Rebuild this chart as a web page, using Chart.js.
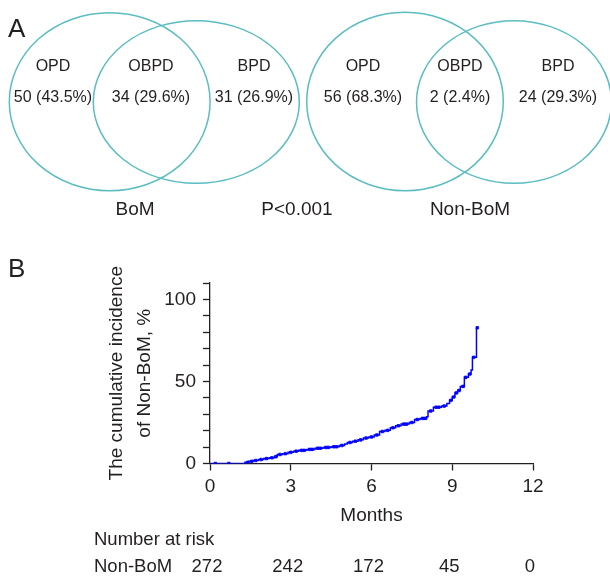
<!DOCTYPE html>
<html>
<head>
<meta charset="utf-8">
<script src="https://cdn.jsdelivr.net/npm/chart.js@4.4.1/dist/chart.umd.min.js"></script>
<style>
  body { margin: 0; background: #fff; }
  canvas { display: block; }
</style>
</head>
<body>
<canvas id="venn" width="610" height="230"></canvas>
<canvas id="chart" width="610" height="349"></canvas>
<script>
// panel A: Venn counts
const vennRegions = ['OPD', 'OBPD', 'BPD'];
const bomCounts = [50, 34, 31];
const bomPct = ['43.5', '29.6', '26.9'];
const nonBomCounts = [56, 2, 24];
const nonBomPct = ['68.3', '2.4', '29.3'];
const groupNames = ['BoM', 'Non-BoM'];
const pText = 'P<0.001';

// panel B: cumulative incidence step curve
const months = [0, 1.3, 1.45, 1.6, 1.8, 2.0, 2.2, 2.4, 2.5, 2.7,
  2.9, 3.1, 3.3, 3.6, 3.9, 4.2, 4.5, 4.8, 5.0, 5.1,
  5.3, 5.5, 5.7, 5.9, 6.1, 6.3, 6.5, 6.7, 6.9, 7.1,
  7.4, 7.6, 7.8, 8.05, 8.1, 8.3, 8.6, 8.8, 8.9, 9.0,
  9.1, 9.2, 9.3, 9.45, 9.6, 9.7, 9.75, 9.9];
const incidence = [0, 0.7, 1.3, 1.8, 2.4, 3.0, 3.5, 4.2, 5.5, 6.0,
  6.8, 7.5, 8.0, 8.6, 9.3, 9.8, 10.2, 11.0, 11.9, 12.8,
  13.6, 14.4, 15.5, 16.2, 17.4, 19.5, 20.2, 21.8, 23.0, 24.0,
  25.0, 26.8, 27.5, 28.5, 32.0, 34.3, 35.0, 36.5, 38.5, 40.5,
  43.0, 44.5, 47.0, 52.5, 54.5, 57.0, 64.7, 82.7];
const censorMonths = [0.2, 0.7, 1.4, 1.55, 1.7, 1.9, 2.1, 2.3, 2.45, 2.6,
  2.8, 3.0, 3.2, 3.4, 3.5, 3.7, 3.8, 4.0, 4.1, 4.3, 4.4, 4.6, 4.7, 4.9,
  5.2, 5.4, 5.6, 5.8, 6.0, 6.2, 6.4, 6.6, 6.8, 7.0, 7.2, 7.3, 7.5, 7.7,
  7.9, 8.0, 8.2, 8.4, 8.5, 8.7, 8.95, 9.05, 9.15, 9.25, 9.4, 9.5, 9.65,
  9.8, 9.93];
const xTicks = [0, 3, 6, 9, 12];
const riskTimes = [0, 3, 6, 9, 12];
const riskCounts = [272, 242, 172, 45, 0];

const ink = '#231f20';
const teal = '#5bbdc1';
const fam = '"Liberation Sans", Arial, Helvetica, sans-serif';
Chart.defaults.font.family = fam;
Chart.defaults.color = ink;

function stepAt(t) {
  let v = 0;
  for (let i = 0; i < months.length; i++) if (months[i] <= t) v = incidence[i];
  return v;
}

// Venn ellipses and label spots, in the panel's own 0-610 / 0-230 units
const vennLayout = [
  { ellipses: [[109.7, 101.7, 100.4, 89], [196.3, 102, 103, 81.3]],
    labelX: [53, 151, 254], nameX: 135, counts: bomCounts, pct: bomPct },
  { ellipses: [[405, 101.5, 98.3, 89.2], [514, 102, 97.5, 81.3]],
    labelX: [363, 460, 558], nameX: 470, counts: nonBomCounts, pct: nonBomPct }
];

const vennPlugin = {
  id: 'venn',
  afterDraw(chart) {
    const { ctx } = chart;
    const sx = chart.scales.x, sy = chart.scales.y;
    const px = v => sx.getPixelForValue(v);
    const py = v => sy.getPixelForValue(v);
    ctx.save();
    ctx.fillStyle = ink;
    ctx.textBaseline = 'middle';
    ctx.font = '26px ' + fam;
    ctx.textAlign = 'left';
    ctx.fillText('A', px(8), py(30));
    ctx.strokeStyle = teal;
    ctx.lineWidth = 1.5;
    vennLayout.forEach((g, gi) => {
      g.ellipses.forEach(e => {
        ctx.beginPath();
        ctx.ellipse(px(e[0]), py(e[1]), px(e[0] + e[2]) - px(e[0]), Math.abs(py(e[1] + e[3]) - py(e[1])), 0, 0, Math.PI * 2);
        ctx.stroke();
      });
      ctx.textAlign = 'center';
      ctx.font = '16px ' + fam;
      vennRegions.forEach((r, i) => {
        ctx.fillText(r, px(g.labelX[i]), py(67));
        ctx.fillText(g.counts[i] + ' (' + g.pct[i] + '%)', px(g.labelX[i]), py(97.5));
      });
      ctx.font = '19px ' + fam;
      ctx.fillText(groupNames[gi], px(g.nameX), py(210));
    });
    ctx.fillText(pText, px(297), py(210));
    ctx.restore();
  }
};

new Chart(document.getElementById('venn'), {
  type: 'scatter',
  data: { datasets: [] },
  options: {
    responsive: false,
    animation: false,
    devicePixelRatio: 1,
    layout: { padding: 0 },
    plugins: { legend: { display: false }, tooltip: { enabled: false } },
    scales: {
      x: { type: 'linear', min: 0, max: 610, display: false },
      y: { type: 'linear', min: 0, max: 230, reverse: true, display: false }
    }
  },
  plugins: [vennPlugin]
});

const riskPlugin = {
  id: 'risk',
  afterDraw(chart) {
    const { ctx } = chart;
    const x = chart.scales.x;
    ctx.save();
    ctx.fillStyle = ink;
    ctx.textBaseline = 'middle';
    ctx.font = '26px ' + fam;
    ctx.textAlign = 'left';
    ctx.fillText('B', 8, 40);
    ctx.font = '18.5px ' + fam;
    ctx.fillText('Number at risk', 94, 310);
    ctx.fillText('Non-BoM', 94, 337);
    ctx.textAlign = 'center';
    riskTimes.forEach((t, i) => {
      ctx.fillText(String(riskCounts[i]), x.getPixelForValue(t) - 3, 337);
    });
    ctx.restore();
  }
};

new Chart(document.getElementById('chart'), {
  type: 'line',
  data: {
    datasets: [{
      data: months.map((m, i) => ({ x: m, y: incidence[i] })),
      borderColor: '#0000ff',
      borderWidth: 1.5,
      stepped: true,
      pointRadius: 0,
      fill: false
    }, {
      type: 'scatter',
      data: censorMonths.map(m => ({ x: m, y: stepAt(m) })),
      pointStyle: 'rect',
      radius: 1.8,
      borderWidth: 0.8,
      borderColor: '#0000ff',
      backgroundColor: '#0000ff'
    }]
  },
  options: {
    responsive: false,
    animation: false,
    devicePixelRatio: 1,
    layout: { padding: { left: 0, top: 53, right: 77, bottom: 50.5 } },
    plugins: { legend: { display: false }, tooltip: { enabled: false } },
    scales: {
      x: {
        type: 'linear',
        min: 0,
        max: 12,
        afterBuildTicks: s => { s.ticks = xTicks.map(v => ({ value: v })); },
        afterFit: s => { s.height = 65; },
        ticks: { font: { size: 19 }, padding: 5, color: ink, maxRotation: 0, autoSkip: false },
        grid: { drawOnChartArea: false, tickLength: 7, color: ink, tickWidth: 1.3 },
        border: { color: ink, width: 1.3 },
        title: { display: true, text: 'Months', font: { size: 19 }, color: ink, padding: { top: 0, bottom: 1 } }
      },
      y: {
        type: 'linear',
        min: 0,
        max: 110,
        afterFit: s => { s.width = 210; },
        ticks: {
          stepSize: 10,
          autoSkip: false,
          font: { size: 19 },
          padding: 7,
          color: ink,
          callback: v => (v % 50 === 0 ? v : '')
        },
        grid: { drawOnChartArea: false, tickLength: 7, color: ink, tickWidth: 1.3 },
        border: { color: ink, width: 1.3 },
        title: {
          display: true,
          text: ['The cumulative incidence', 'of Non-BoM, %'],
          font: { size: 19, lineHeight: 1.47 },
          color: ink,
          padding: { top: 103, bottom: 0 }
        }
      }
    }
  },
  plugins: [riskPlugin]
});
</script>
</body>
</html>
